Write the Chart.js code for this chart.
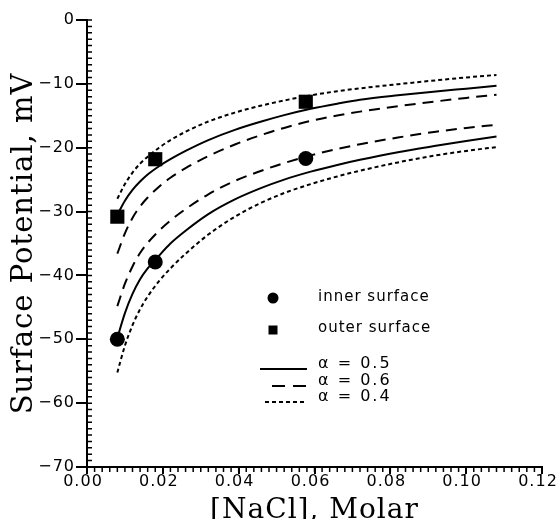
<!DOCTYPE html>
<html>
<head>
<meta charset="utf-8">
<script src="https://cdn.jsdelivr.net/npm/chart.js@4.4.0/dist/chart.umd.min.js"></script>
<style>
html,body{margin:0;padding:0;background:#fff}
</style>
</head>
<body>
<canvas id="myChart" width="560" height="519"></canvas>
<script>
// NaCl concentration (molar) where the model curves were sampled
const conc = [0.008,0.010,0.012,0.014,0.016,0.019,0.022,0.026,0.032,0.039,0.046,0.052,0.059,0.066,0.072,0.082,0.092,0.100,0.108];

// outer surface curves
const outerA05 = [-30.5,-28.3,-26.6,-25.3,-24.2,-22.9,-21.8,-20.5,-18.8,-17.2,-15.9,-14.9,-13.9,-13.1,-12.5,-11.8,-11.2,-10.75,-10.3];
const outerA06 = [-36.6,-33.4,-31.0,-29.2,-27.8,-26.1,-24.7,-23.2,-21.3,-19.5,-18.0,-16.9,-15.8,-14.95,-14.35,-13.5,-12.75,-12.2,-11.7];
const outerA04 = [-28.0,-25.7,-23.9,-22.5,-21.4,-20.0,-18.8,-17.5,-15.9,-14.5,-13.4,-12.6,-11.8,-11.15,-10.7,-10.05,-9.45,-9.0,-8.6];

// inner surface curves
const innerA05 = [-49.8,-45.9,-42.9,-40.6,-38.9,-36.9,-35.0,-33.0,-30.4,-28.1,-26.3,-25.0,-23.75,-22.7,-21.9,-20.7,-19.7,-18.95,-18.25];
const innerA06 = [-44.8,-41.3,-38.6,-36.5,-34.9,-33.0,-31.4,-29.6,-27.3,-25.2,-23.6,-22.4,-21.2,-20.2,-19.45,-18.4,-17.5,-16.9,-16.4];
const innerA04 = [-55.2,-51.0,-47.8,-45.3,-43.3,-40.9,-38.9,-36.6,-33.6,-30.8,-28.6,-27.1,-25.7,-24.5,-23.6,-22.3,-21.2,-20.5,-19.9];

// measured points
const concMeasured = [0.008,0.018,0.0577];
const innerMeasured = [-50.0,-37.9,-21.7];
const outerMeasured = [-30.8,-21.8,-12.8];

const xTicks = [0,0.02,0.04,0.06,0.08,0.10,0.12];
const yTicks = [0,-10,-20,-30,-40,-50,-60,-70];
const keyLabels = ['inner surface','outer surface','\u03b1 = 0.5','\u03b1 = 0.6','\u03b1 = 0.4'];

const pts = (xs, ys) => xs.map((v, i) => ({x: v, y: ys[i]}));

function curve(ys, dash) {
    return {
        data: pts(conc, ys),
        borderColor: '#000',
        borderWidth: 2,
        borderDash: dash,
        pointRadius: 0,
        fill: false,
        cubicInterpolationMode: 'monotone',
    };
}

const spacing = {
    id: 'spacing',
    beforeDraw(chart) { chart.ctx.letterSpacing = '1px'; }
};

// small ticks between the labelled ones
const minorTicks = {
    id: 'minorTicks',
    afterDraw(chart) {
        const {ctx, scales: {x, y}} = chart;
        ctx.save();
        ctx.strokeStyle = '#000';
        ctx.lineWidth = 1.5;
        ctx.beginPath();
        for (let v = 0; v >= -70; v--) {
            const py = y.getPixelForValue(v);
            ctx.moveTo(x.left, py);
            ctx.lineTo(x.left + 5, py);
        }
        for (let i = 0; i <= 60; i++) {
            const px = x.getPixelForValue(i * 0.002);
            ctx.moveTo(px, y.bottom);
            ctx.lineTo(px, y.bottom + 5);
        }
        ctx.stroke();
        ctx.restore();
    }
};

const keyBox = {
    id: 'keyBox',
    afterDraw(chart) {
        const ctx = chart.ctx;
        ctx.save();
        ctx.fillStyle = '#000';
        ctx.strokeStyle = '#000';
        ctx.beginPath();
        ctx.arc(273, 298, 5.5, 0, Math.PI * 2);
        ctx.fill();
        ctx.fillRect(268.5, 325.5, 9, 9);
        ctx.lineWidth = 2;
        [[260, 369, []], [272, 386, [13, 8]], [265, 402, [4, 3]]].forEach(([x0, yy, d]) => {
            ctx.setLineDash(d);
            ctx.beginPath();
            ctx.moveTo(x0, yy);
            ctx.lineTo(307, yy);
            ctx.stroke();
        });
        ctx.setLineDash([]);
        ctx.textBaseline = 'middle';
        ctx.textAlign = 'left';
        ctx.font = '15px "DejaVu Sans"';
        ctx.letterSpacing = '1px';
        ctx.fillText(keyLabels[0], 318, 297);
        ctx.fillText(keyLabels[1], 318, 328);
        ctx.font = '16px "DejaVu Sans"';
        ctx.letterSpacing = '2px';
        ctx.fillText(keyLabels[2], 318, 364);
        ctx.fillText(keyLabels[3], 318, 381);
        ctx.fillText(keyLabels[4], 318, 397);
        ctx.restore();
    }
};

const ctx = document.getElementById('myChart').getContext('2d');

const config = {
    type: 'line',
    data: {
        datasets: [
            {data: pts(concMeasured, innerMeasured), showLine: false, pointStyle: 'circle', pointRadius: 7.5, pointBackgroundColor: '#000', pointBorderWidth: 0},
            {data: pts(concMeasured, outerMeasured), showLine: false, pointStyle: 'rect', pointRadius: 10, pointBackgroundColor: '#000', pointBorderWidth: 0},
            curve(outerA05, []),
            curve(outerA06, [11, 7]),
            curve(outerA04, [4, 3]),
            curve(innerA05, []),
            curve(innerA06, [11, 7]),
            curve(innerA04, [4, 3]),
        ],
    },
    options: {
        responsive: false,
        animation: false,
        layout: {padding: {left: 0, right: 18, top: 20, bottom: 0}},
        plugins: {legend: {display: false}, tooltip: {enabled: false}},
        scales: {
            x: {
                type: 'linear',
                min: 0,
                max: 0.12,
                afterBuildTicks: s => { s.ticks = xTicks.map(v => ({value: v})); },
                afterFit: s => { s.height = 52; s.paddingLeft = 0; s.paddingRight = 0; },
                border: {color: '#000', width: 2},
                grid: {drawOnChartArea: false, drawTicks: true, tickLength: 7, color: '#000', lineWidth: 2},
                ticks: {
                    autoSkip: false,
                    maxRotation: 0,
                    padding: -2,
                    labelOffset: -4,
                    color: '#000',
                    font: {family: 'DejaVu Sans', size: 16},
                    callback: v => v.toFixed(2),
                },
                title: {
                    display: true,
                    text: '[NaCl], Molar',
                    color: '#000',
                    font: {family: 'DejaVu Serif', size: 28},
                    padding: {top: 0, bottom: -9},
                },
            },
            y: {
                min: -70,
                max: 0,
                afterBuildTicks: s => { s.ticks = yTicks.map(v => ({value: v})); },
                afterFit: s => { s.width = 87; s.paddingTop = 0; s.paddingBottom = 0; },
                border: {color: '#000', width: 2},
                grid: {drawOnChartArea: false, drawTicks: true, tickLength: 11, color: '#000', lineWidth: 2},
                ticks: {
                    padding: 1,
                    color: '#000',
                    font: {family: 'DejaVu Sans', size: 16},
                    callback: v => v === 0 ? '0' : '\u2212' + Math.abs(v),
                },
                title: {
                    display: true,
                    text: 'Surface Potential, mV',
                    color: '#000',
                    font: {family: 'DejaVu Serif', size: 29},
                    padding: {top: 7, bottom: 0},
                },
            },
        },
    },
    plugins: [spacing, minorTicks, keyBox],
};

const chart = new Chart(ctx, config);
</script>
</body>
</html>
